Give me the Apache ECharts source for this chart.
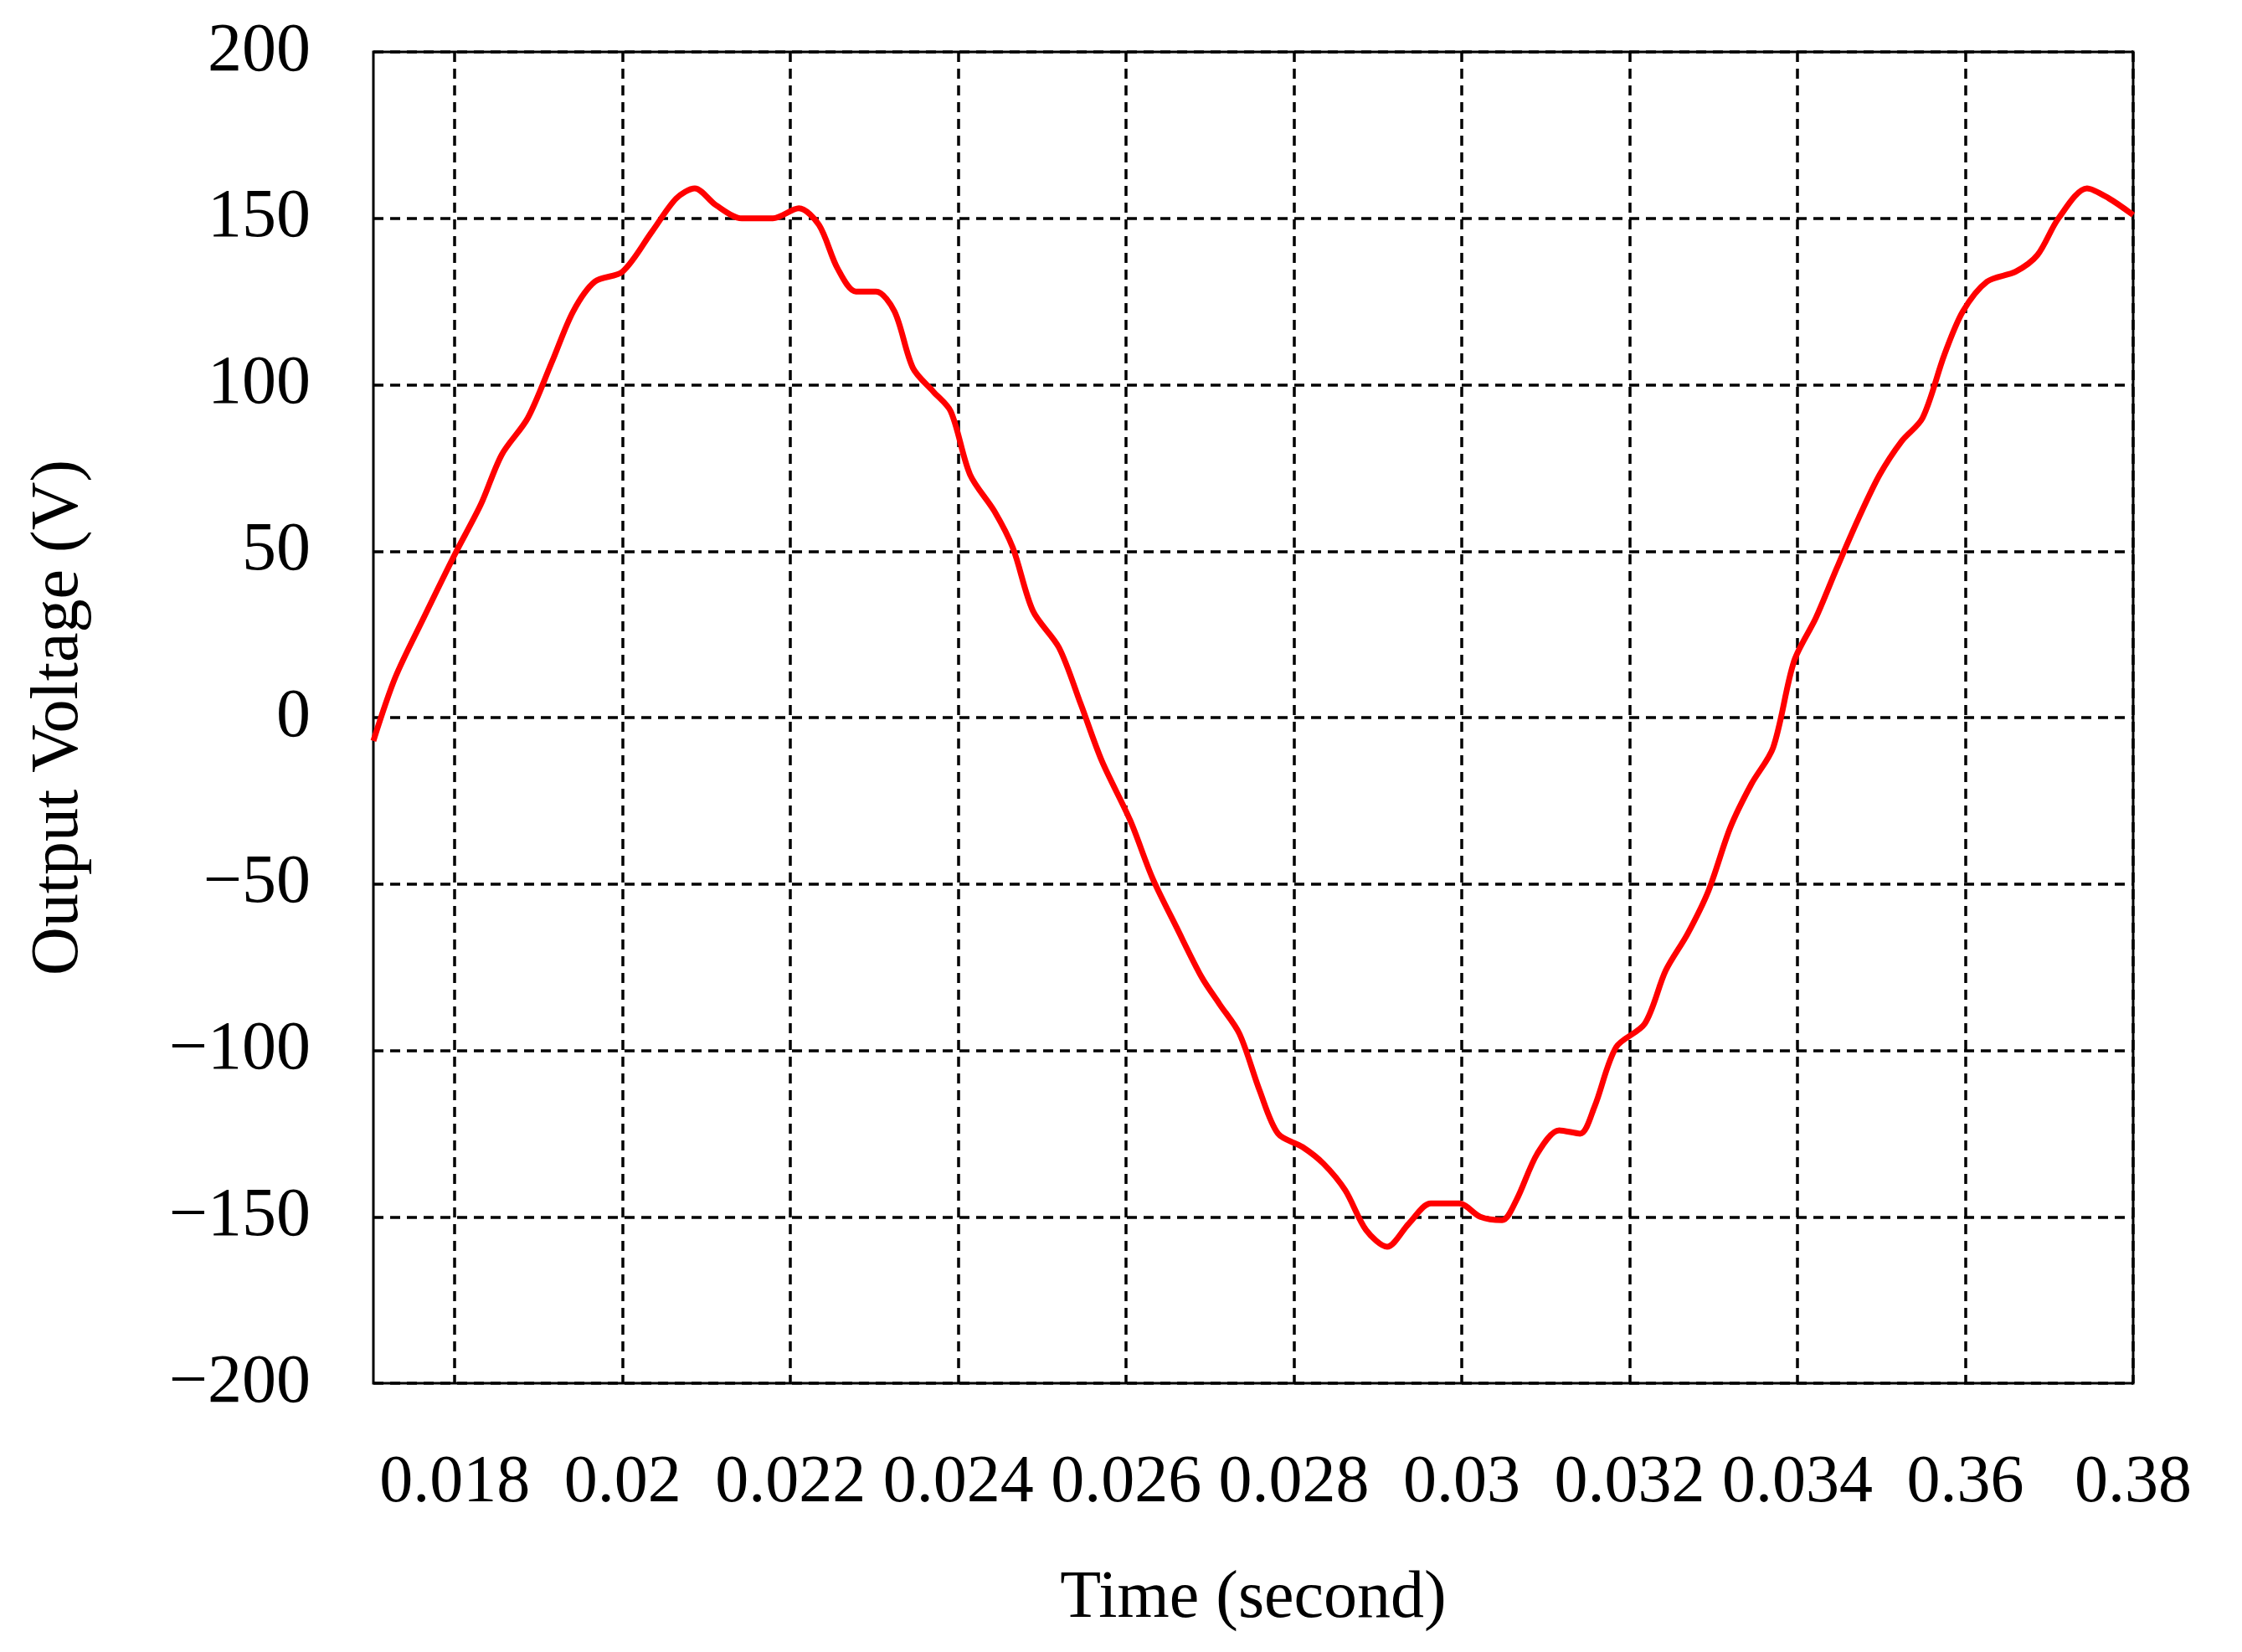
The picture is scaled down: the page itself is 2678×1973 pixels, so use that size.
<!DOCTYPE html>
<html>
<head>
<meta charset="UTF-8">
<script src="https://cdn.jsdelivr.net/npm/echarts@6/dist/echarts.min.js"></script>
</head>
<body style="margin:0;background:#fff">
<div id="c" style="width:2678px;height:1973px"></div>
<script>
// time (s) and output voltage (V)
var times = [0.01703,0.01729,0.01763,0.018,0.01831,0.01856,0.01887,0.01916,0.01941,0.01967,0.02,0.02035,0.02064,0.02086,0.02111,0.02142,0.02179,0.0221,0.02234,0.02256,0.02278,0.02302,0.02324,0.02346,0.0237,0.02391,0.02414,0.02443,0.02465,0.02489,0.0252,0.02546,0.02571,0.02605,0.02631,0.0266,0.0269,0.02711,0.02735,0.02759,0.02781,0.0281,0.02835,0.02861,0.02886,0.02911,0.02937,0.02963,0.02997,0.03022,0.03048,0.03065,0.0309,0.03116,0.03141,0.03158,0.03184,0.03218,0.03243,0.03269,0.03294,0.0332,0.03345,0.03371,0.03396,0.03422,0.03447,0.03473,0.03498,0.03524,0.03549,0.03575,0.03597,0.03626,0.0366,0.03686,0.03711,0.03745,0.03771,0.038];
var volts = [-7,12,30,49,64,79,90,107,122,131,134,146,156,159,154,150,150,153,148,135,128,128,122,105,98,92,73,62,51,32,21,4,-13,-31,-48,-63,-78,-86,-95,-112,-125,-129,-134,-142,-154,-159,-152,-146,-146,-150,-151,-145,-131,-124,-125,-117,-99,-92,-76,-65,-52,-33,-20,-9,17,30,45,60,73,83,90,109,122,131,134,139,150,159,156,151];
var xTicks = [0.018,0.020,0.022,0.024,0.026,0.028,0.030,0.032,0.034,0.036,0.038];
var xTickText = ['0.018','0.02','0.022','0.024','0.026','0.028','0.03','0.032','0.034','0.36','0.38'];

var font = 'Liberation Serif';
var chart = echarts.init(document.getElementById('c'));
chart.setOption({
  animation: false,
  grid: {left: 446, right: 130, top: 62, bottom: 321, show: true, borderColor: '#000', borderWidth: 3},
  xAxis: {
    type: 'value', min: 0.01703, max: 0.038,
    name: 'Time (second)', nameLocation: 'middle', nameGap: 218,
    nameTextStyle: {fontFamily: font, fontSize: 80, color: '#000'},
    axisLine: {show: false},
    axisTick: {show: false, customValues: xTicks},
    axisLabel: {customValues: xTicks, margin: 80, fontFamily: font, fontSize: 80, color: '#000',
      formatter: function (v) {
        for (var i = 0; i < xTicks.length; i++) if (Math.abs(xTicks[i] - v) < 1e-7) return xTickText[i];
        return '';
      }},
    splitLine: {show: true, lineStyle: {color: '#000', width: 3.5, type: [12, 8]}}
  },
  yAxis: {
    type: 'value', min: -200, max: 200, interval: 50,
    name: 'Output Voltage (V)', nameLocation: 'middle', nameGap: 335,
    nameTextStyle: {fontFamily: font, fontSize: 80, color: '#000'},
    axisLine: {show: false}, axisTick: {show: false},
    axisLabel: {margin: 75, fontFamily: font, fontSize: 82, color: '#000',
      formatter: function (v) { return v < 0 ? '\u2212' + (-v) : '' + v; }},
    splitLine: {show: true, lineStyle: {color: '#000', width: 3.5, type: [12, 8]}}
  },
  series: [{
    type: 'line', showSymbol: false, smooth: 0.3,
    data: times.map(function (t, i) { return [t, volts[i]]; }),
    lineStyle: {color: '#ff0000', width: 7}
  }]
});
</script>
</body>
</html>
